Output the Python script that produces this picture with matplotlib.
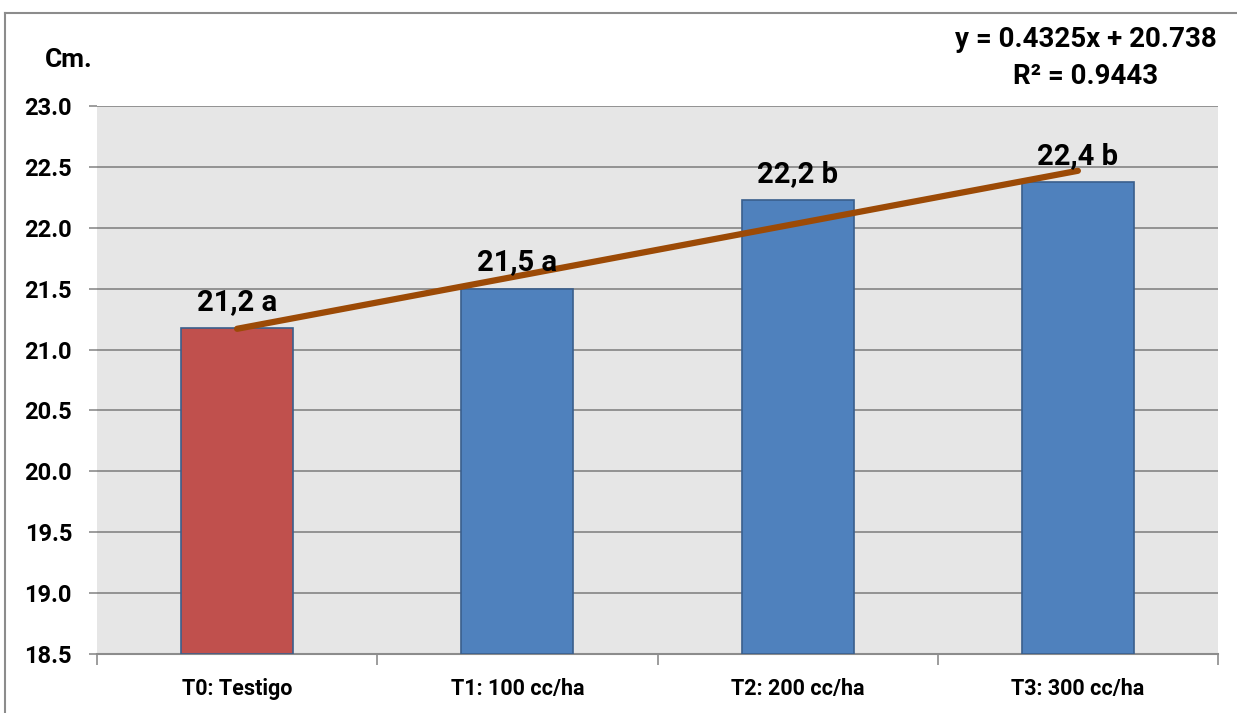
import matplotlib
matplotlib.use("Agg")
import matplotlib.pyplot as plt
import numpy as np
from matplotlib.lines import Line2D

# Plant height per treatment (cm)
categories = ["T0: Testigo", "T1: 100 cc/ha", "T2: 200 cc/ha", "T3: 300 cc/ha"]
heights = [21.175, 21.5, 22.225, 22.375]
labels = ["21,2 a", "21,5 a", "22,2 b", "22,4 b"]
bar_colors = ["#C0504D", "#4F81BD", "#4F81BD", "#4F81BD"]
y_ticks = [18.5, 19.0, 19.5, 20.0, 20.5, 21.0, 21.5, 22.0, 22.5, 23.0]

# Linear trend on treatment index 1..4
trend_slope = 0.4325
trend_intercept = 20.738
trend_r2 = 0.9443

plt.rcParams["font.family"] = ["Roboto", "DejaVu Sans"]
plt.rcParams["font.weight"] = "bold"

fig = plt.figure(figsize=(12.37, 7.13), dpi=100)
ax = fig.add_axes([97 / 1237, 1 - 654 / 713, 1121 / 1237, 548 / 713])
ax.set_facecolor("#E6E6E6")

x = np.arange(len(categories))
ax.bar(x, [h - y_ticks[0] for h in heights], bottom=y_ticks[0], width=0.40,
       color=bar_colors, edgecolor="#3A5F8C", linewidth=1.2, zorder=3)

for xp, h, lab in zip(x, heights, labels):
    ax.text(xp, h + 0.1, lab, ha="center", va="bottom", fontsize=21,
            fontweight="bold", zorder=5)

# trend line across the bars
ax.plot(x, trend_slope * (x + 1) + trend_intercept, color="#9C4A06", linewidth=4.5,
        solid_capstyle="round", zorder=4)

ax.set_xlim(-0.5, len(categories) - 0.5)
ax.set_ylim(y_ticks[0], y_ticks[-1])
ax.set_yticks(y_ticks)
ax.set_yticklabels([f"{v:.1f}" for v in y_ticks], fontsize=17, fontweight="bold")
ax.yaxis.grid(True, color="#8C8C8C", linewidth=1.3, zorder=1)
ax.set_axisbelow(True)

ax.set_xticks(x)
ax.set_xticklabels(categories, fontsize=15.5, fontweight="bold")
ax.tick_params(axis="x", length=0, pad=17)
ax.set_xticks(np.arange(-0.5, len(categories)), minor=True)
ax.tick_params(axis="x", which="minor", length=8, color="#8C8C8C", width=1.2)
ax.tick_params(axis="y", length=6, color="#8C8C8C", width=1.2, pad=12)

for side in ["top", "right", "left"]:
    ax.spines[side].set_visible(False)
ax.spines["bottom"].set_color("#8C8C8C")
ax.spines["bottom"].set_linewidth(1.5)

fig.text(45 / 1237, 1 - 60 / 713, "Cm.", fontsize=19, fontweight="bold",
         va="center", ha="left")
fig.text(1086 / 1237, 1 - 58 / 713,
         f"y = {trend_slope:.4f}x + {trend_intercept:.3f}\nR² = {trend_r2:.4f}",
         fontsize=20, fontweight="bold", ha="center", va="center",
         linespacing=1.45)

# chart frame
fig.add_artist(Line2D([5 / 1237, 5 / 1237], [0, 1 - 13 / 713], color="#8C8C8C", linewidth=1.5))
fig.add_artist(Line2D([5 / 1237, 1], [1 - 13 / 713, 1 - 13 / 713], color="#8C8C8C", linewidth=1.5))

fig.savefig("out.png", dpi=100)
